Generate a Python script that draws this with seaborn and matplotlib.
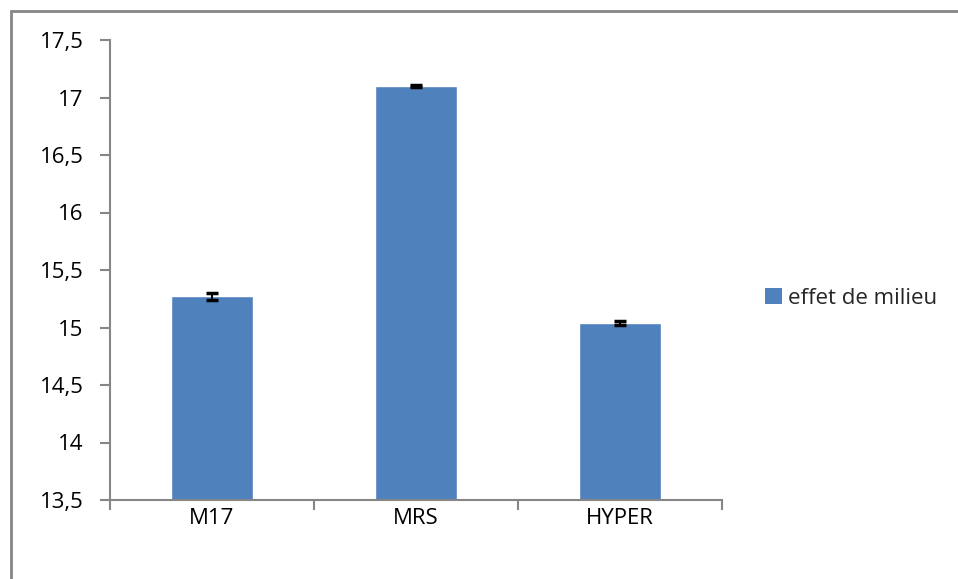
import matplotlib
matplotlib.use("Agg")
import matplotlib.pyplot as plt
import seaborn as sns
import pandas as pd
from matplotlib.patches import Rectangle, Patch
from matplotlib.ticker import FuncFormatter, MultipleLocator

categories = ["M17", "MRS", "HYPER"]
values = [15.27, 17.10, 15.04]
errors = [0.03, 0.005, 0.02]
series_name = "effet de milieu"

sns.set_style("white")
plt.rcParams['font.family'] = ['Open Sans', 'DejaVu Sans']

df = pd.DataFrame({"cat": categories, "val": values})

fig = plt.figure(figsize=(9.58, 5.79), dpi=100)
ax = fig.add_axes([110/958, 1 - 500/579, (722-110)/958, (500-40)/579])

bar_color = "#4F81BD"
sns.barplot(data=df, x="cat", y="val", color=bar_color, width=0.4, ax=ax,
            errorbar=None, saturation=1, bottom=0)
ax.errorbar(range(len(categories)), values, yerr=errors, fmt="none",
            ecolor="black", elinewidth=1.5, capsize=4, capthick=2.5)

ax.set_ylim(13.5, 17.5)
ax.set_xlim(-0.5, 2.5)
ax.yaxis.set_major_locator(MultipleLocator(0.5))
ax.yaxis.set_major_formatter(FuncFormatter(lambda v, p: (f"{v:g}").replace(".", ",")))
ax.set_xlabel("")
ax.set_ylabel("")

gray = "#868686"
for s in ["top", "right"]:
    ax.spines[s].set_visible(False)
for s in ["left", "bottom"]:
    ax.spines[s].set_color(gray)
    ax.spines[s].set_linewidth(1.5)

ax.tick_params(axis="y", which="major", direction="out", length=7, width=1.5,
               color=gray, left=True, labelsize=16, pad=12, labelcolor="black")
ax.set_xticks([0, 1, 2])
ax.set_xticklabels(categories)
ax.tick_params(axis="x", which="major", length=0, labelsize=16, pad=6, labelcolor="black")
ax.set_xticks([-0.5, 0.5, 1.5, 2.5], minor=True)
ax.tick_params(axis="x", which="minor", direction="out", length=7, width=1.5,
               color=gray, bottom=True)

handle = Patch(facecolor=bar_color, edgecolor="none")
fig.legend([handle], [series_name], loc="center left",
           bbox_to_anchor=(745/958, 1 - 298/579), frameon=False,
           fontsize=16, handlelength=0.75, handleheight=0.75, handletextpad=0.3)

fig.patches.append(Rectangle((10.5/958, -0.1), 1.2, 1 - 10.5/579 + 0.1,
                             transform=fig.transFigure, fill=False,
                             edgecolor=gray, linewidth=2))

fig.savefig("out.png", dpi=100)
